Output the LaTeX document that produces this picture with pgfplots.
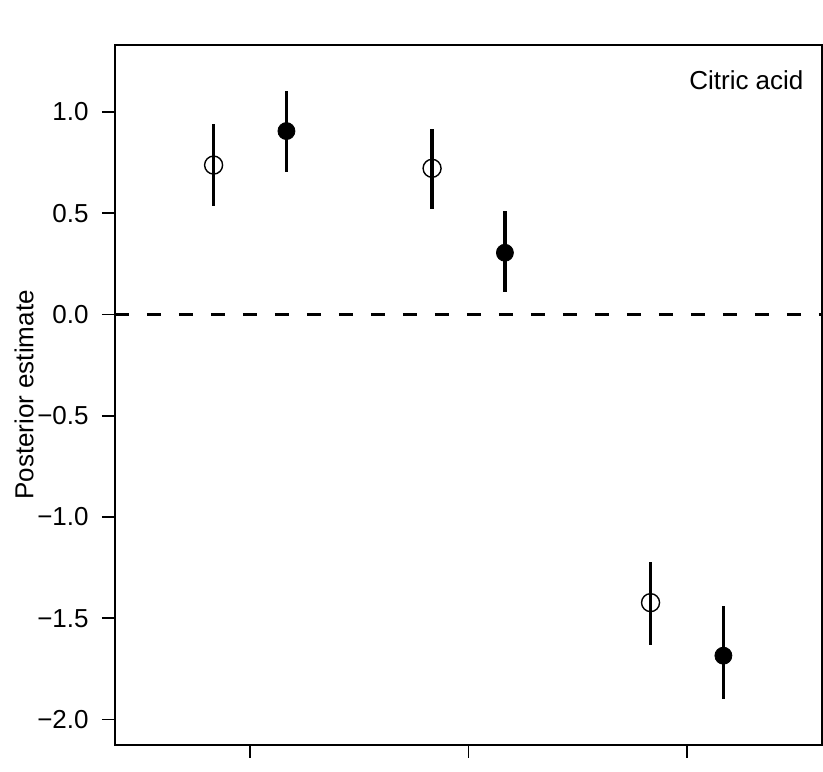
\documentclass[border=0pt]{standalone}
\usepackage{fontspec}
\setmainfont{Liberation Sans}
\usepackage{pgfplots}
\pgfplotsset{compat=1.18}
\begin{document}
\begin{tikzpicture}
\begin{axis}[
  name=ax,
  at={(0,0)}, anchor=south west,
  scale only axis,
  width=353.5pt, height=350pt,
  xmin=0.382, xmax=3.618,
  ymin=-2.126, ymax=1.331,
  axis line style={line width=1pt},
  tick align=outside,
  major tick length=6.5pt,
  tick style={line width=0.8pt, black},
  xtick={1,2,3}, xticklabels={,,},
  xtick pos=bottom, ytick pos=left,
  ytick={-2,-1.5,-1,-0.5,0,0.5,1},
  yticklabels={−2.0,−1.5,−1.0,−0.5,0.0,0.5,1.0},
  ticklabel style={font=\fontsize{13}{15}\selectfont},
  yticklabel style={anchor=east, inner sep=0pt, xshift=-6.5pt},
  clip mode=individual,
]
\addplot[black, line width=1.7pt, dash pattern=on 7pt off 9pt] coordinates {(0.382,0) (3.618,0)};
% open circles
\addplot[black, only marks, mark=o, mark size=4.5pt, mark options={line width=0.7pt},
  error bars/.cd, y dir=both, y explicit, error mark=none,
  error bar style={line width=1.7pt}]
  table[x=x, y=y, y error plus=ep, y error minus=em] {
x y ep em
0.8333 0.738 0.203 0.202
1.8333 0.722 0.193 0.201
2.8333 -1.423 0.200 0.209
};
% filled circles
\addplot[black, only marks, mark=*, mark size=4.25pt,
  error bars/.cd, y dir=both, y explicit, error mark=none,
  error bar style={line width=1.7pt}]
  table[x=x, y=y, y error plus=ep, y error minus=em] {
x y ep em
1.1667 0.906 0.199 0.201
2.1667 0.305 0.206 0.195
3.1667 -1.685 0.245 0.215
};
\node[anchor=east, inner sep=0pt, font=\fontsize{13}{15}\selectfont] at (axis cs:3.535,1.158) {Citric acid};
\end{axis}
\node[rotate=90, anchor=base, inner sep=0pt, font=\fontsize{13}{15}\selectfont] at (-40.75pt,175pt) {Posterior estimate};
\path (-57.5pt,-13pt) rectangle (354pt,372.5pt);
\end{tikzpicture}
\end{document}
